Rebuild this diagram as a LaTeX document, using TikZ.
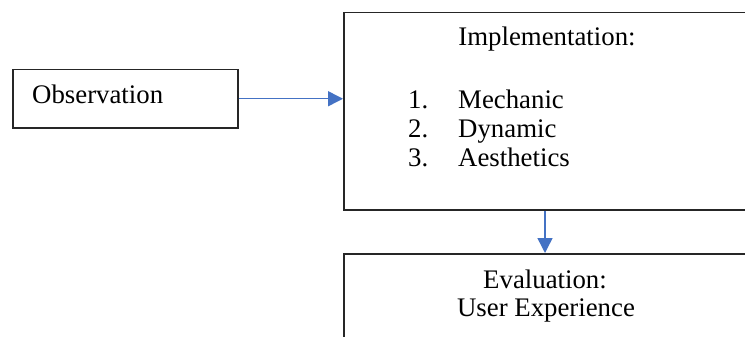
\documentclass[tikz,border=0pt]{standalone}
\usepackage{fontspec}
\setmainfont{Liberation Serif}
\usetikzlibrary{arrows.meta,calc}
\definecolor{arrblue}{HTML}{4472C4}
\definecolor{boxline}{HTML}{262626}
\tikzset{
  box/.style={draw=boxline, line width=1.5pt, rectangle, inner sep=0pt, anchor=north west},
  conn/.style={draw=arrblue, line width=1.5pt, -{Triangle[length=15pt,width=15pt]}},
  txt/.style={inner sep=0pt, anchor=base, font=\fontsize{26.8pt}{30pt}\selectfont},
  txtw/.style={txt, anchor=base west}
}
\begin{document}
\begin{tikzpicture}[x=1pt,y=-1pt]
\useasboundingbox (0,0) rectangle (745,337);
\clip (0,0) rectangle (745,337);
\fill[white] (0,0) rectangle (745,337);
\node[box, minimum width=225pt, minimum height=58pt] (obs) at (12,69) {};
\node[box, minimum width=520pt, minimum height=197pt] (impl) at (343,12) {};
\node[box, minimum width=520pt, minimum height=130pt] (eval) at (343,253) {};
\node[txtw] (tobs) at (32,103) {Observation};
\node[txt] (timpl) at (547,46) {Implementation:};
\node[txtw] (n1) at (408,108) {1.};
\node[txtw] (i1) at (458,108) {Mechanic};
\node[txtw] (n2) at (408,138) {2.};
\node[txtw] (i2) at (458,138) {Dynamic};
\node[txtw] (n3) at (408,166) {3.};
\node[txtw] (i3) at (458,166) {Aesthetics};
\node[txt] (teval) at (545,288) {Evaluation:};
\node[txt] (tux) at (546,316) {User Experience};
\draw[conn] (obs.east) -- (obs.east -| impl.west);
\coordinate (vs) at ($(impl.south west)+(202,0)$);
\coordinate (ve) at ($(eval.north west)+(202,0)$);
\draw[conn] (vs) -- (ve);
\end{tikzpicture}
\end{document}
